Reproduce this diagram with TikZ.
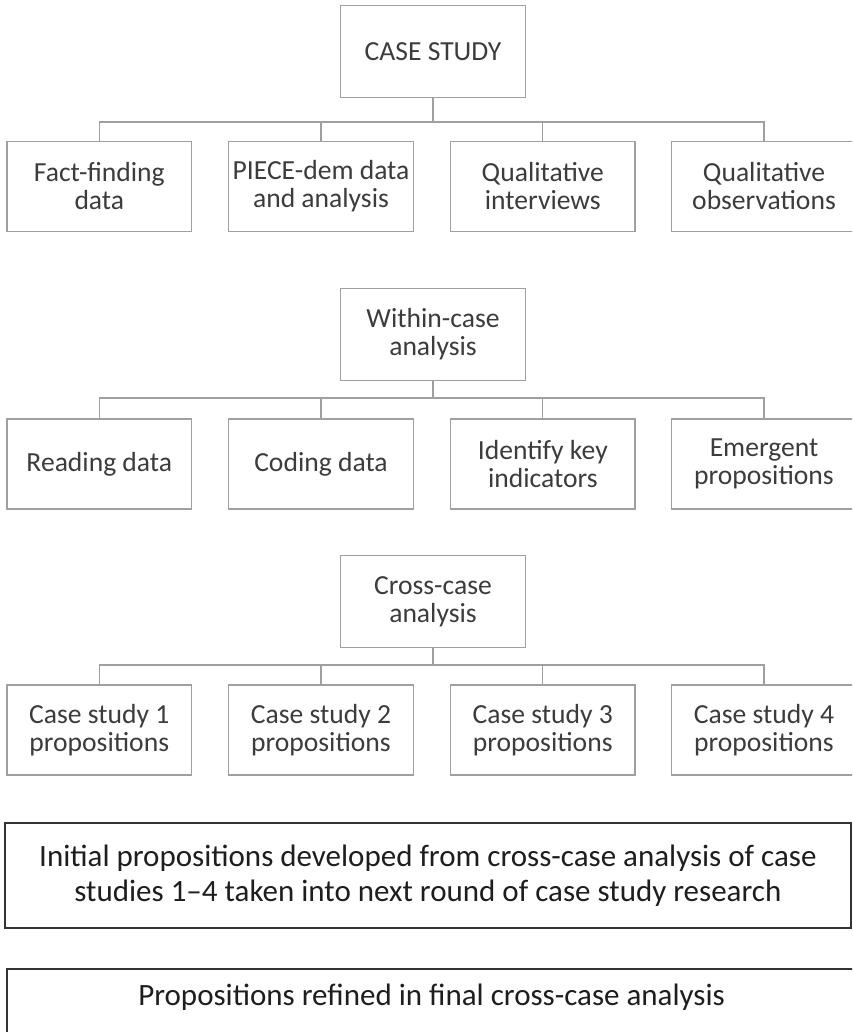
\documentclass[tikz,border=0pt]{standalone}
\usepackage{fontspec}
\setmainfont{Carlito}
\definecolor{boxgray}{HTML}{A0A0A0}
\definecolor{txtgray}{HTML}{3C3C3C}
\definecolor{bigline}{HTML}{333333}
\definecolor{bigtxt}{HTML}{1E1E1E}
\begin{document}
\begin{tikzpicture}[x=1pt,y=-1pt,
  sbox/.style={draw=boxgray, line width=1.3pt, minimum width=184.5pt, minimum height=90pt,
    inner sep=0pt, align=center, text=txtgray, font=\fontsize{27.6}{28}\selectfont},
  hbox/.style={sbox, minimum width=185pt, minimum height=91.5pt},
  conn/.style={draw=boxgray, line width=1.3pt},
  bigbox/.style={draw=bigline, line width=2pt, inner sep=0pt, align=center, text=bigtxt,
    font=\fontsize{31}{35}\selectfont},
  bigtext/.style={inner sep=0pt, align=center, text=bigtxt, font=\fontsize{31}{35}\selectfont}]
\useasboundingbox (0,0) rectangle (852,1032);
\clip (0,0) rectangle (852,1032);
\fill[white] (0,0) rectangle (852,1032);

% ---- Row 1
\node[hbox] (cs) at (433,51.5) {CASE STUDY};
\coordinate (b1) at (433,122);
\node[sbox] (a1) at (99.3,186.5) {Fact-finding\\data};
\node[sbox] (a2) at (321,186.5) {PIECE-dem data\\and analysis};
\node[sbox] (a3) at (542.8,186.5) {Qualitative\\interviews};
\node[sbox] (a4) at (764,186.5) {Qualitative\\observations};
\draw[conn] (cs.south) -- (b1);
\draw[conn] (a1.north) |- (b1) -| (a4.north);
\draw[conn] (b1 -| a2.north) -- (a2.north);
\draw[conn] (b1 -| a3.north) -- (a3.north);

% ---- Row 2
\node[hbox] (wc) at (433,334.5) {Within-case\\analysis};
\coordinate (b2) at (433,398);
\node[sbox] (w1) at (99.3,464) {Reading data};
\node[sbox] (w2) at (321,464) {Coding data};
\node[sbox] (w3) at (542.8,464) {Identify key\\indicators};
\node[sbox] (w4) at (764,464) {Emergent\\propositions};
\draw[conn] (wc.south) -- (b2);
\draw[conn] (w1.north) |- (b2) -| (w4.north);
\draw[conn] (b2 -| w2.north) -- (w2.north);
\draw[conn] (b2 -| w3.north) -- (w3.north);

% ---- Row 3
\node[hbox] (cc) at (433,601.5) {Cross-case\\analysis};
\coordinate (b3) at (433,665);
\node[sbox] (c1) at (99.3,730) {Case study 1\\propositions};
\node[sbox] (c2) at (321,730) {Case study 2\\propositions};
\node[sbox] (c3) at (542.8,730) {Case study 3\\propositions};
\node[sbox] (c4) at (764,730) {Case study 4\\propositions};
\draw[conn] (cc.south) -- (b3);
\draw[conn] (c1.north) |- (b3) -| (c4.north);
\draw[conn] (b3 -| c2.north) -- (c2.north);
\draw[conn] (b3 -| c3.north) -- (c3.north);

% ---- Bottom boxes
\node[bigbox, minimum width=846.3pt, minimum height=105pt] (ip) at (427.9,875.5)
  {Initial propositions developed from cross-case analysis of case\\studies 1–4 taken into next round of case study research};
\node[bigbox, minimum width=848.7pt, minimum height=107pt, anchor=north] (pr) at (431.6,968) {};
\node[bigtext] (prt) at (431.6,997) {Propositions refined in final cross-case analysis};
\end{tikzpicture}
\end{document}
